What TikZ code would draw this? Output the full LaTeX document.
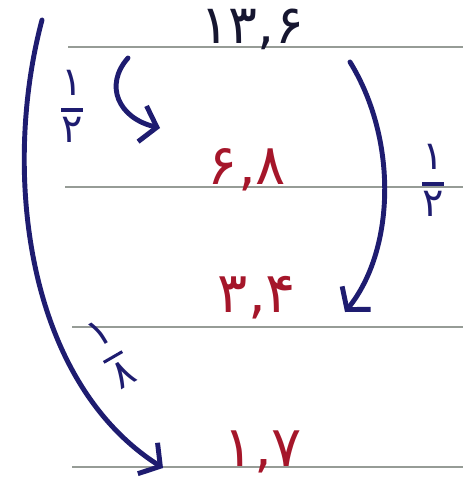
\documentclass[tikz,border=0pt]{standalone}
\usepackage{fontspec}
\usepackage{tikz}
\usetikzlibrary{arrows.meta}
\newfontfamily\persianfont{DejaVu Sans}
\definecolor{inkblue}{RGB}{30,28,112}
\definecolor{inkred}{RGB}{165,22,42}
\definecolor{inkdark}{RGB}{22,22,48}
\definecolor{ruleline}{RGB}{150,156,150}
\newcommand{\pfrac}[2]{{\setlength{\arrayrulewidth}{2.6pt}\renewcommand{\arraystretch}{1.0}\begin{tabular}{@{}c@{}}#1\\\hline #2\end{tabular}}}

\begin{document}
\begin{tikzpicture}[x=0.03cm,y=-0.03cm,
  numtop/.style={inkdark,inner sep=0pt,font=\persianfont\fontsize{46}{52}\selectfont},
  numred/.style={inkred,inner sep=0pt,font=\persianfont\fontsize{48}{54}\selectfont},
  ratio/.style={inkblue,inner sep=0pt,font=\persianfont\fontsize{34}{38}\selectfont},
  flow/.style={inkblue,line width=4.2pt,line cap=round,line join=round,
    -{Straight Barb[length=0.45cm,width=1.1cm]}}]
  \useasboundingbox (0,0) rectangle (463,501);
  % ruled paper
  \foreach \yy/\xa in {47/68,187/65,327/72,467/72}
    \draw[ruleline,line width=1.5pt] (\xa,\yy) -- (463,\yy);
  % values
  \node[numtop] (n136) at (252,29) {۱۳,۶};
  \node[numred] (n68) at (247,170) {۶,۸};
  \node[numred] (n34) at (257,298) {۳,۴};
  \node[numred] (n17) at (263,452) {۱,۷};
  % ratios
  \node[ratio] (rA) at (72,110) {\pfrac{۱}{۲}};
  \node[ratio] (rB) at (433,184) {\pfrac{۱}{۲}};
  \node[ratio,rotate=30] (rC) at (113,357) {\pfrac{۱}{۸}};
  % arrows
  \coordinate (bigS) at (42,20);   \coordinate (bigE) at (163,468);
  \coordinate (smlS) at (128,58);  \coordinate (smlE) at (160,128);
  \coordinate (rgtS) at (350,62);  \coordinate (rgtE) at (345,312);
  \draw[flow] (bigS) .. controls (2,170) and (25,380) .. (bigE);
  \draw[flow] (smlS) .. controls (104,85) and (118,118) .. (smlE);
  \draw[flow] (rgtS) .. controls (398,140) and (395,250) .. (rgtE);
\end{tikzpicture}
\end{document}
